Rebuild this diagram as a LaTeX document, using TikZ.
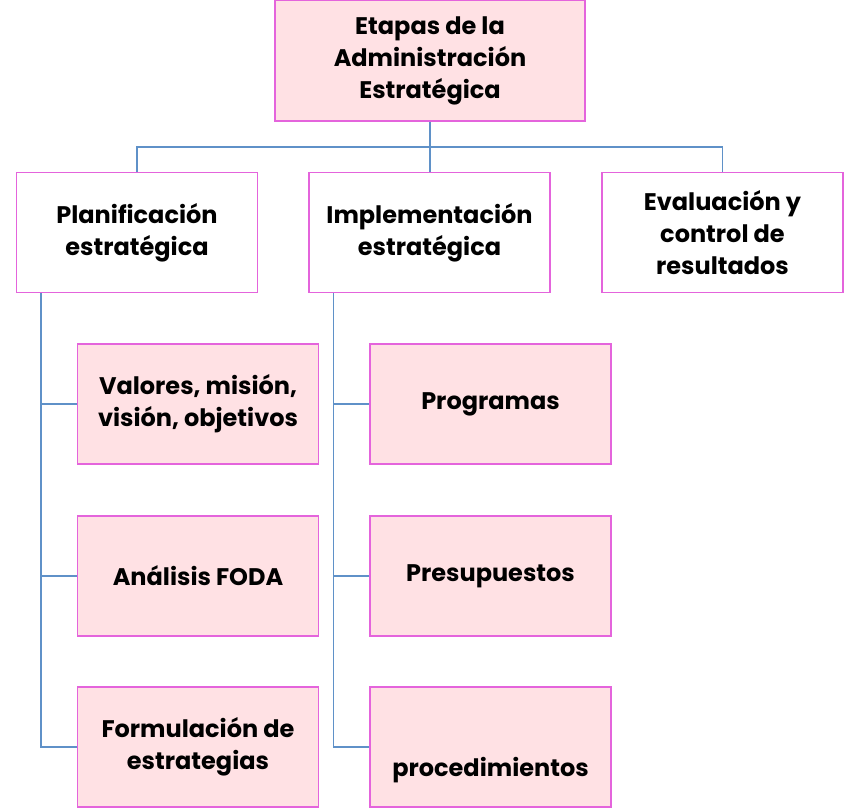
\documentclass[tikz,border=0pt]{standalone}
\usepackage{fontspec}
\setmainfont{Poppins}
\usetikzlibrary{calc}
\definecolor{boxline}{RGB}{228,100,220}
\definecolor{boxfill}{RGB}{255,225,228}
\definecolor{linkline}{RGB}{95,145,200}
\tikzset{x=1pt, y=-1pt,
    stage/.style={draw=boxline, line width=1.1pt, align=center,
           font=\bfseries\fontsize{24}{32}\selectfont,
           minimum width=241pt, minimum height=120pt, inner sep=0pt},
    pink stage/.style={stage, fill=boxfill},
    link/.style={draw=linkline, line width=1.2pt}
    }

\begin{document}
\begin{tikzpicture}
\useasboundingbox (0,0) rectangle (850,808);
% top box
\node (Etapas) [pink stage, minimum width=310pt, minimum height=121pt] at (430,60.5)
   {Etapas de la\\Administración\\Estratégica};
% second level
\node (Plan) [stage, fill=white] at (137,232.5) {Planificación\\estratégica};
\node (Impl) [stage, fill=white] at (429.5,232.5) {Implementación\\estratégica};
\node (Eval) [stage, fill=white] at (722.5,232.5) {Evaluación y\\control de\\resultados};
% planificacion
\node (Valores) [pink stage] at (198,404) {Valores, misión,\\visión, objetivos};
\node (Foda) [pink stage] at (198,576) {Análisis FODA};
\node (Formul) [pink stage] at (198,747) {Formulación de\\estrategias};
% implementacion
\node (Program) [pink stage] at (490.5,404) {Programas};
\node (Presup) [pink stage] at (490.5,576) {Presupuestos};
\node (Proced) [pink stage] at (490.5,747) {\raisebox{-29pt}[0pt][0pt]{procedimientos}};

\coordinate (Bus) at (430,147);
\draw[link] (Etapas.south) -- (Bus);
\draw[link] (Bus) -| (Plan.north);
\draw[link] (Bus) -| (Eval.north);
\draw[link] (Bus) -- (Bus |- Impl.north);

\coordinate (PlanSpine) at ($(Plan.south west)+(25,0)$);
\foreach \kid in {Valores,Foda,Formul}
  \draw[link] (PlanSpine) |- (\kid.west);
\coordinate (ImplSpine) at ($(Impl.south west)+(25,0)$);
\foreach \kid in {Program,Presup,Proced}
  \draw[link] (ImplSpine) |- (\kid.west);
\end{tikzpicture}
\end{document}
